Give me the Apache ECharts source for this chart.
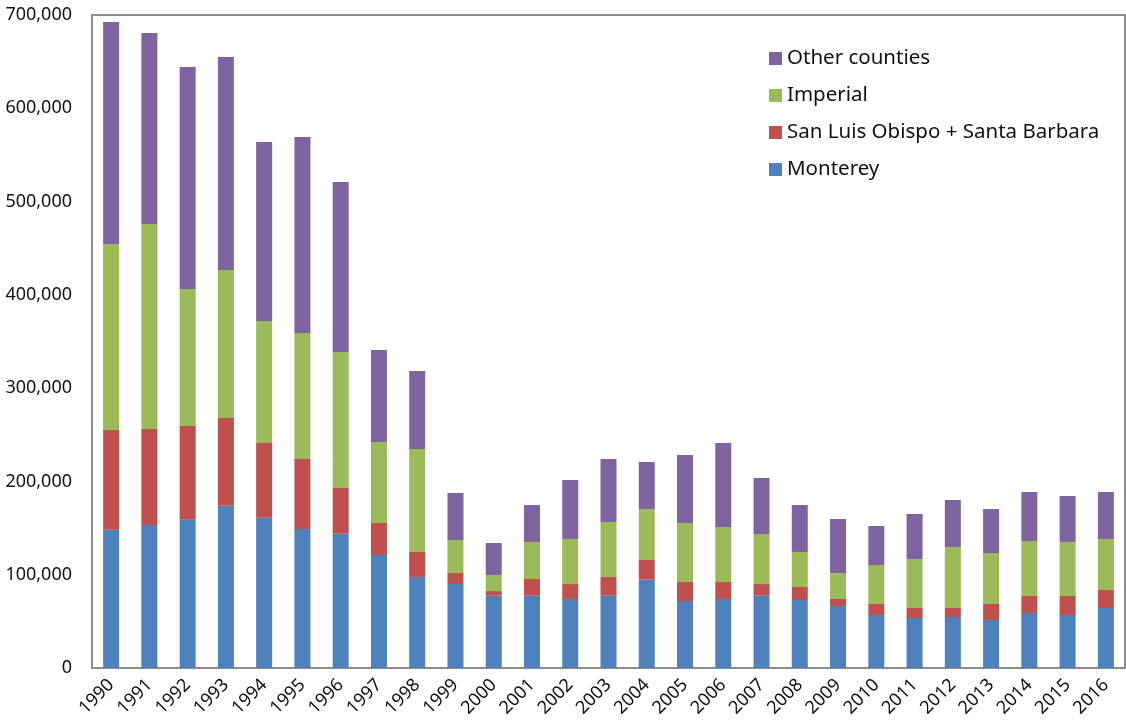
<!DOCTYPE html>
<html>
<head>
<meta charset="utf-8">
<script src="https://cdn.jsdelivr.net/npm/echarts@6/dist/echarts.min.js"></script>
<style>
  html, body { margin: 0; padding: 0; background: #fff; }
  #chart { width: 1126px; height: 728px; }
</style>
</head>
<body>
<div id="chart"></div>
<script>
const years = ['1990','1991','1992','1993','1994','1995','1996','1997','1998','1999','2000','2001','2002',
  '2003','2004','2005','2006','2007','2008','2009','2010','2011','2012','2013','2014','2015','2016'];

const monterey = [148300,153300,159000,174000,161100,149000,144000,121100,97600,90000,77500,77500,74000,
  77500,94700,71800,74000,77500,72900,66500,56800,53600,54700,51500,59000,56800,64300];
const sloSb = [106800,102900,100400,94000,80100,75000,49000,34300,26800,11800,5000,17900,16000,
  20100,21100,20400,18200,12500,13900,7500,11800,10700,9600,17100,18200,20400,19300];
const imperial = [199400,219800,146900,158700,130800,135100,145800,86900,110400,35400,17200,39700,48300,
  58900,54600,63200,59000,53600,37600,27800,41800,52500,65400,54700,58900,57900,54700];
const other = [238000,204700,238000,228300,191900,210100,182200,98600,83600,50400,34300,39600,63200,
  67500,50400,72900,90000,60100,50300,57900,41800,48300,50400,47100,52600,49300,50400];

const font = 'Noto Sans, DejaVu Sans, sans-serif';
const chart = echarts.init(document.getElementById('chart'));

function bar(name, data, color) {
  return {
    name: name,
    type: 'bar',
    stack: 'total',
    barWidth: 16,
    itemStyle: { color: color },
    data: data
  };
}

chart.setOption({
  animation: false,
  grid: {
    left: 92, right: 1, top: 15, bottom: 60,
    show: true,
    borderColor: '#8c8c8c',
    borderWidth: 2
  },
  legend: {
    orient: 'vertical',
    left: 764,
    top: 43,
    itemWidth: 13,
    itemHeight: 13,
    itemGap: 16,
    icon: 'rect',
    textStyle: { fontSize: 20.5, color: '#111', fontFamily: font },
    data: ['Other counties', 'Imperial', 'San Luis Obispo + Santa Barbara', 'Monterey']
  },
  xAxis: {
    type: 'category',
    data: years,
    axisLine: { lineStyle: { color: '#8c8c8c', width: 2 } },
    axisTick: { show: false },
    axisLabel: {
      rotate: 45,
      fontSize: 18,
      color: '#111',
      fontFamily: font,
      margin: 14,
      interval: 0
    }
  },
  yAxis: {
    type: 'value',
    min: 0,
    max: 700000,
    interval: 100000,
    splitLine: { show: false },
    axisLine: { show: true, lineStyle: { color: '#8c8c8c', width: 2 } },
    axisTick: { show: false },
    axisLabel: {
      fontSize: 18,
      color: '#111',
      fontFamily: font,
      margin: 20,
      formatter: v => v.toLocaleString('en-US')
    }
  },
  series: [
    bar('Monterey', monterey, '#4F81BD'),
    bar('San Luis Obispo + Santa Barbara', sloSb, '#C0504D'),
    bar('Imperial', imperial, '#9BBB59'),
    bar('Other counties', other, '#8064A2')
  ]
});
</script>
</body>
</html>
